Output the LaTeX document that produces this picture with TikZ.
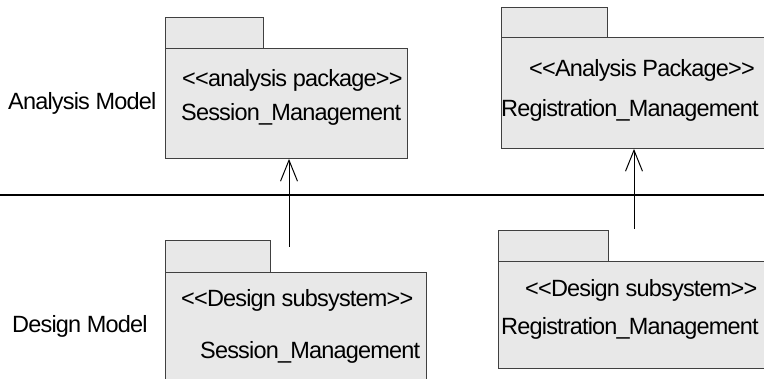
\documentclass[tikz,border=0pt]{standalone}
\usepackage{fontspec}
\setmainfont{Liberation Sans}[LetterSpace=-3.5]
\usetikzlibrary{arrows.meta}
\begin{document}
\begin{tikzpicture}[x=1pt,y=-1pt,
  pkg/.style={draw=black!75, line width=0.9pt, fill=black!9, inner sep=0pt, anchor=north west},
  lbl/.style={inner sep=0pt, anchor=base west, font=\fontsize{23.5}{28}\selectfont},
  sep/.style={line width=1.6pt},
  arr/.style={line width=1pt, -{Straight Barb[length=21pt,width=17pt,line width=1pt]}}]
\useasboundingbox (0,0) rectangle (764,379);
\clip (0,0) rectangle (764,379);
% top-left package
\node[pkg, minimum width=98pt, minimum height=32pt] (tltab) at (165,17) {};
\node[pkg, minimum width=242pt, minimum height=110pt] (tl) at (165,48) {};
\node[lbl] (tls) at (182,87) {<{}<analysis package>{}>};
\node[lbl] (tln) at (181,121) {Session\_Management};
% top-right package
\node[pkg, minimum width=106pt, minimum height=31pt] (trtab) at (501,7) {};
\node[pkg, minimum width=280pt, minimum height=111pt] (tr) at (501,37) {};
\node[lbl] (trs) at (529,77) {<{}<Analysis Package>{}>};
\node[lbl] (trn) at (501,117) {Registration\_Management};
% bottom-left package
\node[pkg, minimum width=105pt, minimum height=32pt] (bltab) at (165,240) {};
\node[pkg, minimum width=261pt, minimum height=130pt] (bl) at (165,272) {};
\node[lbl] (bls) at (181,307) {<{}<Design subsystem>{}>};
\node[lbl] (bln) at (200,359) {Session\_Management};
% bottom-right package
\node[pkg, minimum width=110pt, minimum height=31pt] (brtab) at (498,230) {};
\node[pkg, minimum width=280pt, minimum height=107pt] (br) at (498,261) {};
\node[lbl] (brs) at (525,297) {<{}<Design subsystem>{}>};
\node[lbl] (brn) at (501,335) {Registration\_Management};
% model labels
\node[lbl] (am) at (8,110) {Analysis Model};
\node[lbl] (dm) at (12,333) {Design Model};
% separator
\coordinate (sl) at (0,195);
\coordinate (sr) at (764,195);
\draw[sep] (sl) -- (sr);
% trace arrows
\coordinate (t1) at (289,247);
\coordinate (t2) at (634,229);
\draw[arr] (t1) -- (t1 |- tl.south);
\draw[arr] (t2) -- (t2 |- tr.south);
\end{tikzpicture}
\end{document}
